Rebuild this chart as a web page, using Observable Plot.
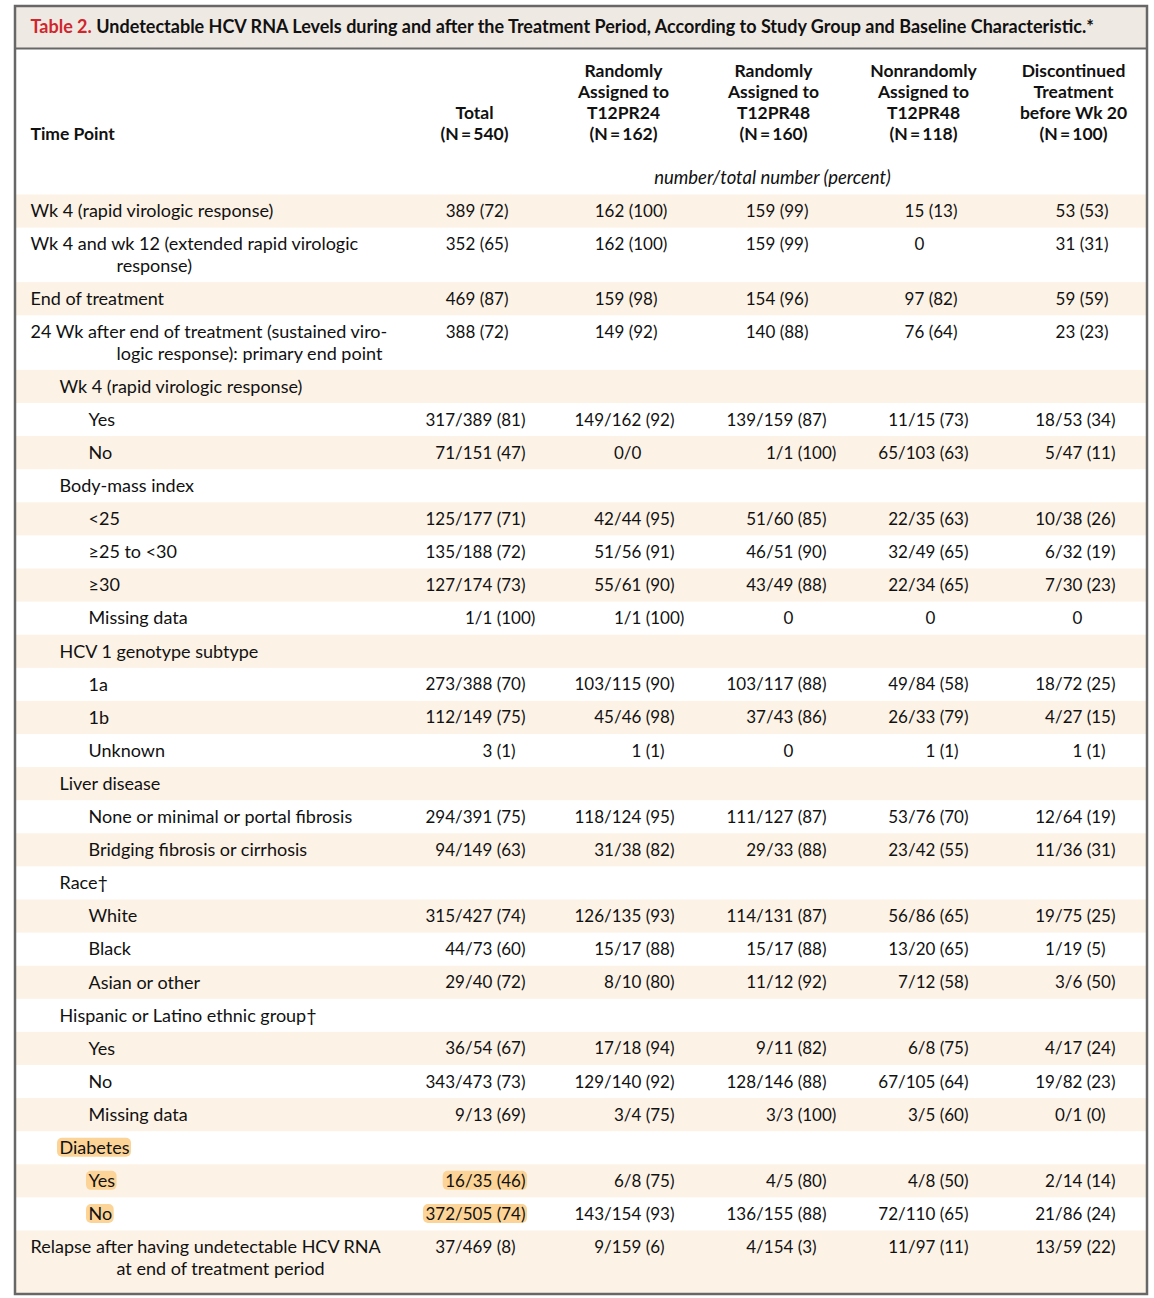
<!DOCTYPE html>
<html>
<head>
<meta charset="utf-8">
<script src="https://cdn.jsdelivr.net/npm/d3@7"></script>
<script src="https://cdn.jsdelivr.net/npm/@observablehq/plot@0.6"></script>
<style>
  html, body { margin: 0; padding: 0; background: #ffffff; }
  #chart svg { display: block; }
</style>
</head>
<body>
<div id="chart"></div>
<script>
// ---------------- DATA ----------------
const titleLead = "Table 2.";
const titleText = "Undetectable HCV RNA Levels during and after the Treatment Period, According to Study Group and Baseline Characteristic.*";
const stubHeader = "Time Point";
const groupHeaders = [
  ["Total", "(N\u2009=\u2009540)"],
  ["Randomly", "Assigned to", "T12PR24", "(N\u2009=\u2009162)"],
  ["Randomly", "Assigned to", "T12PR48", "(N\u2009=\u2009160)"],
  ["Nonrandomly", "Assigned to", "T12PR48", "(N\u2009=\u2009118)"],
  ["Discontinued", "Treatment", "before Wk 20", "(N\u2009=\u2009100)"]
];
const unitsNote = "number/total number (percent)";

const rowLabels = [
  "Wk 4 (rapid virologic response)",
  "Wk 4 and wk 12 (extended rapid virologic\nresponse)",
  "End of treatment",
  "24 Wk after end of treatment (sustained viro-\nlogic response): primary end point",
  "Wk 4 (rapid virologic response)",
  "Yes",
  "No",
  "Body-mass index",
  "<25",
  "\u226525 to <30",
  "\u226530",
  "Missing data",
  "HCV 1 genotype subtype",
  "1a",
  "1b",
  "Unknown",
  "Liver disease",
  "None or minimal or portal fibrosis",
  "Bridging fibrosis or cirrhosis",
  "Race\u2020",
  "White",
  "Black",
  "Asian or other",
  "Hispanic or Latino ethnic group\u2020",
  "Yes",
  "No",
  "Missing data",
  "Diabetes",
  "Yes",
  "No",
  "Relapse after having undetectable HCV RNA\nat end of treatment period"
];
const rowLevels = [0,0,0,0,1,2,2,1,2,2,2,2,1,2,2,2,1,2,2,1,2,2,2,1,2,2,2,1,2,2,0];

const totalValues = ["389 (72)","352 (65)","469 (87)","388 (72)","","317/389 (81)","71/151 (47)","","125/177 (71)","135/188 (72)","127/174 (73)","1/1 (100)","","273/388 (70)","112/149 (75)","3 (1)","","294/391 (75)","94/149 (63)","","315/427 (74)","44/73 (60)","29/40 (72)","","36/54 (67)","343/473 (73)","9/13 (69)","","16/35 (46)","372/505 (74)","37/469 (8)"];
const t12pr24Values = ["162 (100)","162 (100)","159 (98)","149 (92)","","149/162 (92)","0/0","","42/44 (95)","51/56 (91)","55/61 (90)","1/1 (100)","","103/115 (90)","45/46 (98)","1 (1)","","118/124 (95)","31/38 (82)","","126/135 (93)","15/17 (88)","8/10 (80)","","17/18 (94)","129/140 (92)","3/4 (75)","","6/8 (75)","143/154 (93)","9/159 (6)"];
const t12pr48Values = ["159 (99)","159 (99)","154 (96)","140 (88)","","139/159 (87)","1/1 (100)","","51/60 (85)","46/51 (90)","43/49 (88)","0","","103/117 (88)","37/43 (86)","0","","111/127 (87)","29/33 (88)","","114/131 (87)","15/17 (88)","11/12 (92)","","9/11 (82)","128/146 (88)","3/3 (100)","","4/5 (80)","136/155 (88)","4/154 (3)"];
const nonrandomValues = ["15 (13)","0","97 (82)","76 (64)","","11/15 (73)","65/103 (63)","","22/35 (63)","32/49 (65)","22/34 (65)","0","","49/84 (58)","26/33 (79)","1 (1)","","53/76 (70)","23/42 (55)","","56/86 (65)","13/20 (65)","7/12 (58)","","6/8 (75)","67/105 (64)","3/5 (60)","","4/8 (50)","72/110 (65)","11/97 (11)"];
const discontinuedValues = ["53 (53)","31 (31)","59 (59)","23 (23)","","18/53 (34)","5/47 (11)","","10/38 (26)","6/32 (19)","7/30 (23)","0","","18/72 (25)","4/27 (15)","1 (1)","","12/64 (19)","11/36 (31)","","19/75 (25)","1/19 (5)","3/6 (50)","","4/17 (24)","19/82 (23)","0/1 (0)","","2/14 (14)","21/86 (24)","13/59 (22)"];

const highlightedLabelRows = [27, 28, 29];
const highlightedTotalRows = [28, 29];

// ---------------- LAYOUT / STYLE ----------------
const W = 1154, H = 1298;
const FONT = "Lato, 'Open Sans', 'DejaVu Sans', sans-serif";
const FS = 17;        // numbers
const FS_LABEL = 18;  // row labels
const FS_TITLE = 18;
const FS_HEAD = 17.5;
const frame = {x1: 15, x2: 1147, y1: 6, y2: 1294, titleBottom: 48};
const labelIndent = [30, 59, 88];
const hangIndent = 116;
const headerCenters = [474, 623, 773, 923, 1073];
const headerLastLine = 134, headerLineH = 21;
const unitsY = 178, unitsX = 772;
const topRowsRight = [508, 657, 808, 957, 1108];   // right edge of "(nn)" for the first four rows
const lowerRowsRight = [525, 674, 826, 968, 1115]; // right edge of "(nn)" for the other rows
const rowTop0 = 194.5, rowH = 33.1, extraLineH = 21.5;
const stripe = "#fcf2e6", titleFill = "#efe9e3", borderColor = "#676767";
const highlight = "#fcd497";

// text measurement
const ctx = document.createElement("canvas").getContext("2d");
function textWidth(s, weight = "normal", style = "normal", size = FS) {
  ctx.font = `${style} ${weight} ${size}px Lato`;
  return ctx.measureText(s).width;
}

// rows layout
let yCursor = rowTop0;
const rows = rowLabels.map((label, i) => {
  const lines = label.split("\n");
  const h = rowH + extraLineH * (lines.length - 1);
  const r = {i, lines, level: rowLevels[i], y1: yCursor, y2: yCursor + h, yc: yCursor + rowH / 2};
  yCursor += h;
  return r;
});
rows[rows.length - 1].y2 = frame.y2; // last stripe runs to the border

const stripes = rows.filter(r => r.i % 2 === 0);

// label text items
const labelItems = [];
rows.forEach(r => {
  r.lines.forEach((ln, k) => {
    labelItems.push({x: k === 0 ? labelIndent[r.level] : hangIndent, y: r.yc + k * extraLineH, text: ln, row: r.i});
  });
});

// value cells
const columns = [totalValues, t12pr24Values, t12pr48Values, nonrandomValues, discontinuedValues];
const spaceW = textWidth(" ");
const pctRef = textWidth("(00)");
const numItems = [], pctItems = [];
columns.forEach((vals, c) => {
  vals.forEach((v, i) => {
    if (!v) return;
    const right = (i < 4 ? topRowsRight : lowerRowsRight)[c];
    const parenX = right - pctRef;
    const m = v.match(/^(.*?)\s*(\([^)]*\))$/);
    const y = rows[i].yc;
    if (m) {
      numItems.push({x: parenX - spaceW, y, text: m[1], col: c, row: i, pct: m[2], parenX});
      pctItems.push({x: parenX, y, text: m[2], col: c, row: i});
    } else {
      numItems.push({x: parenX - spaceW, y, text: v, col: c, row: i, pct: null, parenX});
    }
  });
});

// highlight boxes
const hlBoxes = [];
highlightedLabelRows.forEach(i => {
  const it = labelItems.find(d => d.row === i);
  const w = textWidth(it.text, "normal", "normal", FS_LABEL);
  hlBoxes.push({x1: it.x - 2, x2: it.x + w + 2, y1: it.y - 10, y2: it.y + 9});
});
highlightedTotalRows.forEach(i => {
  const it = numItems.find(d => d.row === i && d.col === 0);
  const x1 = it.x - textWidth(it.text);
  const x2 = it.pct ? it.parenX + textWidth(it.pct) : it.x;
  hlBoxes.push({x1: x1 - 2, x2: x2 + 2, y1: it.y - 10, y2: it.y + 9});
});

// header items
const headerItems = [];
groupHeaders.forEach((lines, c) => {
  lines.forEach((ln, k) => {
    headerItems.push({x: headerCenters[c], y: headerLastLine - headerLineH * (lines.length - 1 - k), text: ln});
  });
});

const leadW = textWidth(titleLead + " ", "bold", "normal", FS_TITLE);

const chart = Plot.plot({
  width: W,
  height: H,
  margin: 0,
  x: {domain: [0, W], range: [0, W], axis: null},
  y: {domain: [0, H], range: [0, H], axis: null},
  style: {fontFamily: FONT, background: "#ffffff"},
  marks: [
    // title bar
    Plot.rect([{}], {x1: frame.x1, x2: frame.x2, y1: frame.y1, y2: frame.titleBottom, fill: titleFill}),
    // stripes
    Plot.rect(stripes, {x1: frame.x1, x2: frame.x2, y1: "y1", y2: "y2", fill: stripe}),
    // highlights
    Plot.rect(hlBoxes, {x1: "x1", x2: "x2", y1: "y1", y2: "y2", fill: highlight, rx: 5}),
    // title-bar rule and frame
    Plot.ruleY([frame.titleBottom], {x1: frame.x1, x2: frame.x2, stroke: borderColor, strokeWidth: 2}),
    Plot.rect([{}], {x1: frame.x1, x2: frame.x2, y1: frame.y1, y2: frame.y2, fill: "none", stroke: borderColor, strokeWidth: 2.5}),
    // title
    Plot.text([titleLead], {x: 30, y: 27, text: d => d, textAnchor: "start", fontSize: FS_TITLE, fontWeight: "bold", fill: "#d0262d"}),
    Plot.text([titleText], {x: 30 + leadW, y: 27, text: d => d, textAnchor: "start", fontSize: FS_TITLE, fontWeight: "bold", fill: "#111"}),
    // headers
    Plot.text([stubHeader], {x: 30, y: headerLastLine, text: d => d, textAnchor: "start", fontSize: FS_HEAD, fontWeight: "bold", fill: "#111"}),
    Plot.text(headerItems, {x: "x", y: "y", text: "text", textAnchor: "middle", fontSize: FS_HEAD, fontWeight: "bold", fill: "#111"}),
    Plot.text([unitsNote], {x: unitsX, y: unitsY, text: d => d, textAnchor: "middle", fontSize: 18.5, fontStyle: "italic", fill: "#111"}),
    // row labels
    Plot.text(labelItems, {x: "x", y: "y", text: "text", textAnchor: "start", fontSize: FS_LABEL, fill: "#111"}),
    // values
    Plot.text(numItems, {x: "x", y: "y", text: "text", textAnchor: "end", fontSize: FS, fill: "#111"}),
    Plot.text(pctItems, {x: "x", y: "y", text: "text", textAnchor: "start", fontSize: FS, fill: "#111"})
  ]
});

document.getElementById("chart").appendChild(chart);
</script>
</body>
</html>
